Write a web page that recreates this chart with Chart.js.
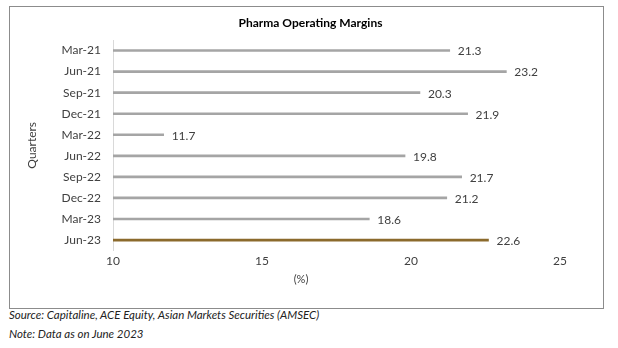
<!DOCTYPE html>
<html>
<head>
<meta charset="utf-8">
<script src="https://cdn.jsdelivr.net/npm/chart.js@4.4.0/dist/chart.umd.min.js"></script>
<style>
  html, body { margin: 0; padding: 0; background: #fff; }
  body { width: 618px; height: 348px; position: relative; font-family: Lato, "Open Sans", sans-serif; }
  #frame { position: absolute; left: 9px; top: 6px; width: 593px; height: 301px; border: 1px solid #8c8c8c; }
  #frame canvas { display: block; }
  #title { position: absolute; left: 9px; width: 603px; top: 16px; text-align: center; font-size: 12px; line-height: 14px; font-weight: bold; color: #000; }
  #xtitle { position: absolute; left: 271px; width: 60px; top: 272px; text-align: center; font-size: 11px; line-height: 14px; color: #404040; }
  .note { position: absolute; left: 9px; font-size: 11.5px; font-style: italic; color: #222; }
</style>
</head>
<body>
<div id="frame"><canvas id="chart" width="593" height="301"></canvas></div>
<div id="title">Pharma Operating Margins</div>
<div id="xtitle">(%)</div>
<div class="note" style="top:308px">Source: Capitaline, ACE Equity, Asian Markets Securities (AMSEC)</div>
<div class="note" style="top:327px">Note: Data as on June 2023</div>
<script>
// quarters, top to bottom
const quarters = ['Mar-21', 'Jun-21', 'Sep-21', 'Dec-21', 'Mar-22', 'Jun-22', 'Sep-22', 'Dec-22', 'Mar-23', 'Jun-23'];
// operating margin (%)
const margins = [21.3, 23.2, 20.3, 21.9, 11.7, 19.8, 21.7, 21.2, 18.6, 22.6];
const xTicks = [10, 15, 20, 25];

const grey = '#a5a5a5';
const brown = '#8b6a2c';
const barColors = quarters.map((q, i) => i === quarters.length - 1 ? brown : grey);

// draws the value just after the end of each bar
const valueLabels = {
    id: 'valueLabels',
    afterDatasetsDraw(chart) {
        const ctx = chart.ctx;
        const meta = chart.getDatasetMeta(0);
        ctx.save();
        ctx.font = '12px Lato, "Open Sans", sans-serif';
        ctx.fillStyle = '#404040';
        ctx.textAlign = 'left';
        ctx.textBaseline = 'middle';
        meta.data.forEach((bar, i) => {
            ctx.fillText(margins[i].toFixed(1), bar.x + 8, bar.y + 1);
        });
        ctx.restore();
    }
};

new Chart(document.getElementById('chart'), {
    type: 'bar',
    data: {
        labels: quarters,
        datasets: [{
            data: margins,
            backgroundColor: barColors,
            barThickness: 2,
            borderWidth: 0
        }]
    },
    options: {
        indexAxis: 'y',
        responsive: false,
        animation: false,
        layout: { padding: { left: 0, right: 43, top: 33, bottom: 37 } },
        plugins: {
            legend: { display: false },
            tooltip: { enabled: false }
        },
        scales: {
            x: {
                min: 10,
                max: 25,
                afterBuildTicks(scale) {
                    scale.ticks = xTicks.map(v => ({ value: v }));
                },
                grid: { display: false, drawTicks: false },
                border: { display: false },
                ticks: {
                    padding: 3,
                    color: '#404040',
                    font: { family: 'Lato, "Open Sans", sans-serif', size: 12 }
                }
            },
            y: {
                afterFit(scale) { scale.width = 103; },
                grid: { display: false, drawTicks: false },
                border: { display: true, color: '#d9d9d9', width: 1 },
                ticks: {
                    padding: 12,
                    color: '#404040',
                    font: { family: 'Lato, "Open Sans", sans-serif', size: 12 }
                },
                title: {
                    display: true,
                    text: 'Quarters',
                    color: '#404040',
                    font: { family: 'Lato, "Open Sans", sans-serif', size: 12 },
                    padding: { top: 15, bottom: 0 }
                }
            }
        }
    },
    plugins: [valueLabels]
});
</script>
</body>
</html>
